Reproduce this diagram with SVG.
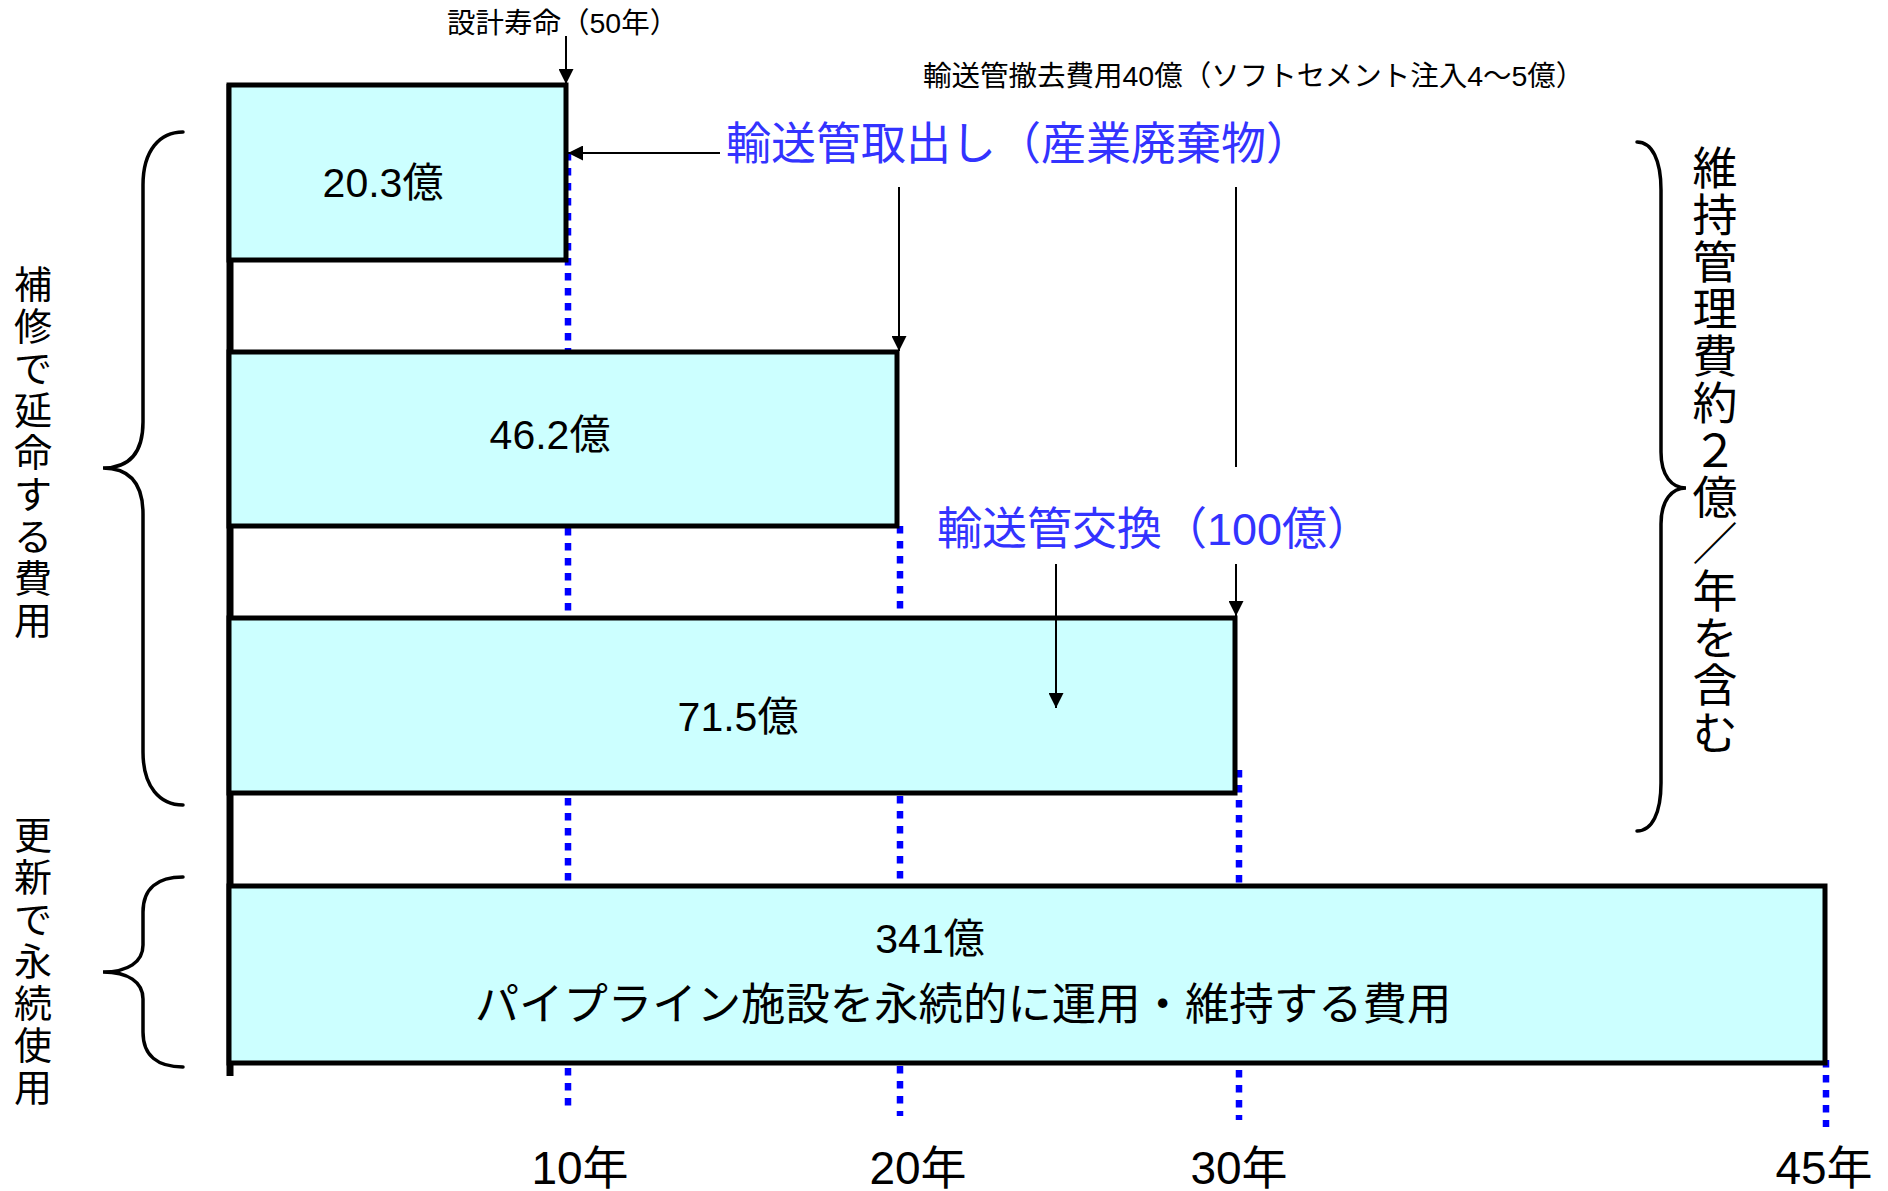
<svg xmlns="http://www.w3.org/2000/svg" width="1888" height="1191" viewBox="0 0 1888 1191">
<style>
.bg{fill:#ffffff}
.box{fill:#CCFFFF;stroke:#000;stroke-width:5}
.axis{stroke:#000;stroke-width:7;fill:none}
.dot{stroke:#0000FF;stroke-width:6.5;stroke-dasharray:7.5 7.5;fill:none}
.arr{stroke:#000;stroke-width:2;fill:none}
.brace{stroke:#000;stroke-width:3.5;fill:none;stroke-linecap:round}
text{font-family:"Liberation Sans","Noto Sans CJK JP",sans-serif;fill:#000}
.blue{fill:#3333FF;font-size:45px}
.small{font-size:28.5px}
.val{font-size:41px;text-anchor:middle}
.year{font-size:46px;text-anchor:middle}
.vert{font-size:38px;text-anchor:middle;dominant-baseline:central}
.vert2{font-size:45px;text-anchor:middle;dominant-baseline:central}
</style>
<defs>
<marker id="ah" markerUnits="userSpaceOnUse" markerWidth="15" markerHeight="15" refX="15" refY="7.5" orient="auto">
<path d="M0,0 L15,7.5 L0,15 z" fill="#000"/>
</marker>
</defs>
<rect class="bg" x="0" y="0" width="1888" height="1191"/>

<g id="guides">
<line class="dot" x1="568" y1="153" x2="568" y2="1110"/>
<line class="dot" x1="900" y1="526" x2="900" y2="1116"/>
<line class="dot" x1="1239" y1="770" x2="1239" y2="1120"/>
<line class="dot" x1="1826" y1="1060" x2="1826" y2="1127"/>
</g>

<g id="axis">
<line class="axis" x1="230" y1="84" x2="230" y2="1076"/>
</g>

<g id="box-1">
<rect class="box" x="229" y="85" width="337" height="175"/>
<text class="val" x="383" y="197">20.3億</text>
</g>
<g id="box-2">
<rect class="box" x="229" y="352" width="668" height="174"/>
<text class="val" x="550" y="449">46.2億</text>
</g>
<g id="box-3">
<rect class="box" x="229" y="618" width="1006" height="175"/>
<text class="val" x="738" y="731">71.5億</text>
</g>
<g id="box-4">
<rect class="box" x="229" y="886" width="1596" height="177"/>
<text class="val" x="930" y="953">341億</text>
<text x="963" y="1020" font-size="44.4" text-anchor="middle">パイプライン施設を永続的に運用・維持する費用</text>
</g>

<g id="label-design-life">
<text class="small" x="447" y="33">設計寿命（50年）</text>
</g>
<g id="label-removal-cost">
<text class="small" x="923" y="86" font-size="28">輸送管撤去費用40億（ソフトセメント注入4〜5億）</text>
</g>
<g id="label-takeout">
<text class="blue" x="726" y="160">輸送管取出し（産業廃棄物）</text>
</g>
<g id="label-exchange">
<text class="blue" x="937" y="545">輸送管交換（100億）</text>
</g>

<g id="label-repair">
<path class="brace" d="M183,132 C160,132 143,150 143,185 L143,422 C143,452 130,468 103,468 C130,468 143,484 143,514 L143,752 C143,787 160,805 183,805"/>
<text class="vert"><tspan x="33" y="285">補</tspan><tspan x="33" y="327">修</tspan><tspan x="33" y="369">で</tspan><tspan x="33" y="411">延</tspan><tspan x="33" y="453">命</tspan><tspan x="33" y="495">す</tspan><tspan x="33" y="537">る</tspan><tspan x="33" y="579">費</tspan><tspan x="33" y="621">用</tspan></text>
</g>
<g id="label-renewal">
<path class="brace" d="M183,877 C158,877 143,888 143,912 L143,945 C143,962 128,972 103,972 C128,972 143,982 143,999 L143,1032 C143,1056 158,1067 183,1067"/>
<text class="vert"><tspan x="33" y="836">更</tspan><tspan x="33" y="878">新</tspan><tspan x="33" y="920">で</tspan><tspan x="33" y="962">永</tspan><tspan x="33" y="1004">続</tspan><tspan x="33" y="1046">使</tspan><tspan x="33" y="1088">用</tspan></text>
</g>
<g id="label-maintenance">
<path class="brace" d="M1637,142 C1652,142 1661,160 1661,190 L1661,452 C1661,476 1672,488 1686,488 C1672,488 1661,500 1661,524 L1661,783 C1661,813 1652,831 1637,831"/>
<text class="vert2"><tspan x="1715" y="169">維</tspan><tspan x="1715" y="216">持</tspan><tspan x="1715" y="263">管</tspan><tspan x="1715" y="310">理</tspan><tspan x="1715" y="357">費</tspan><tspan x="1715" y="404">約</tspan><tspan x="1715" y="451">２</tspan><tspan x="1715" y="498">億</tspan><tspan x="1715" y="545">／</tspan><tspan x="1715" y="592">年</tspan><tspan x="1715" y="639">を</tspan><tspan x="1715" y="686">含</tspan><tspan x="1715" y="734">む</tspan></text>
</g>

<g id="years">
<text class="year" x="580" y="1184">10年</text>
<text class="year" x="918" y="1184">20年</text>
<text class="year" x="1239" y="1184">30年</text>
<text class="year" x="1824" y="1184">45年</text>
</g>

<g id="connectors">
<line class="arr" x1="566" y1="36" x2="566" y2="84" marker-end="url(#ah)"/>
<line class="arr" x1="720" y1="153" x2="568" y2="153" marker-end="url(#ah)"/>
<line class="arr" x1="899" y1="187" x2="899" y2="351" marker-end="url(#ah)"/>
<line class="arr" x1="1236" y1="187" x2="1236" y2="467"/>
<line class="arr" x1="1236" y1="564" x2="1236" y2="616" marker-end="url(#ah)"/>
<line class="arr" x1="1056" y1="564" x2="1056" y2="708" marker-end="url(#ah)"/>
</g>
</svg>
